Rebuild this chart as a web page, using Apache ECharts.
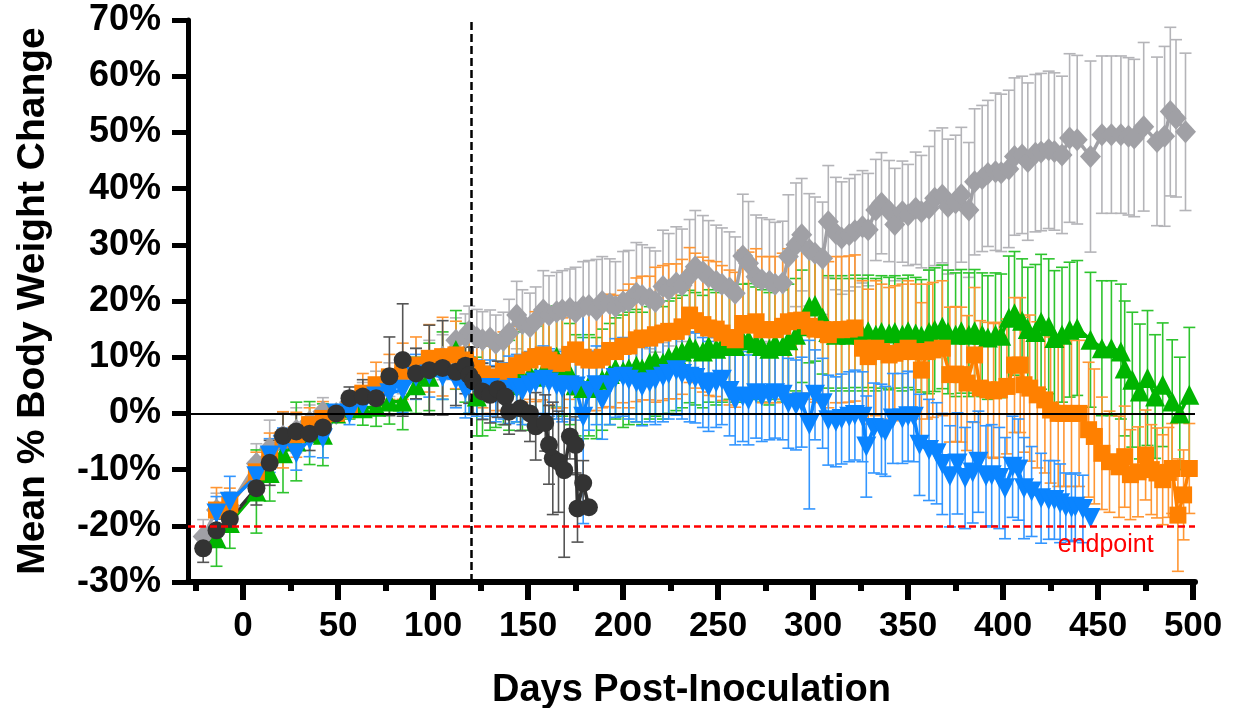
<!DOCTYPE html>
<html>
<head>
<meta charset="utf-8">
<script src="https://cdn.jsdelivr.net/npm/echarts@6.0.0/dist/echarts.min.js"></script>
<style>
html,body{margin:0;padding:0;background:#fff;}
#chart{width:1248px;height:708px;}
</style>
</head>
<body>
<div id="chart"></div>
<script>
// ---------------- DATA ----------------
const xMajorTicks = [0, 50, 100, 150, 200, 250, 300, 350, 400, 450, 500];
const xMinorTicks = [-25, 25, 75, 125, 175, 225, 275, 325, 375, 425, 475];
const earlyDays = [-14, -7, 7, 14, 21, 28, 35, 42, 49, 56, 63, 70, 77, 84, 91, 98, 105, 112, 117, 119];

// Gray diamonds
const grayEarlyDays = [-21, -14, -7, 7, 14, 21, 28, 35, 42, 49, 56, 63, 70, 77, 84, 91, 98, 105, 112, 117, 119];
const grayEarlyMean = [-21.9, -17.2, -16.5, -8.9, -6.2, -4.0, -3.0, -1.5, 0.3, 0, 2.0, 3.0, 4.5, 6.0, 7.0, 8.0, 9.0, 10.0, 13.0, 13.7, 14.6];
const grayEarlySD = [3, 3, 2.5, 3.5, 5, 4, 4, 3, 2.5, 0, 2, 2.5, 3, 3, 3.5, 3.5, 4, 4, 4, 4, 4.5];
const grayLateDays = [123,126,130,133,137,140,144,147,151,154,158,161,165,168,172,175,179,182,186,189,193,196,200,203,207,210,214,217,221,224,228,231,235,238,242,245,249,252,256,259,263,266,270,273,277,280,284,287,291,294,298,301,305,308,312,315,319,322,326,329,333,336,340,343,347,350,354,357,361,364,368,371,375,378,382,385,389,392,396,399,403,406,410,413,417,420,424,427,431,435,439,446,452,457,462,466,469,474,481,485,488,491,496];
const grayLateMean = [13.5,13.1,13.4,12.5,13.0,14.3,17.5,16.0,15.4,16.5,
  18.4,17.5,18.1,18.4,18.7,18.0,19.0,19.2,18.4,19.9,
  19.5,19.0,19.8,20.0,21.4,21.0,20.5,19.9,22.6,22.0,
  23.2,22.8,24.5,26.1,25.2,24.3,23.5,23.0,22.3,21.4,
  28.0,26.7,24.3,23.8,23.5,23.0,23.2,27.9,30.0,31.8,
  29.1,28.5,27.6,34.1,32.0,31.2,31.8,32.5,33.2,32.7,
  36.2,37.4,36.0,33.6,35.9,35.3,36.5,35.9,36.5,38.3,
  38.8,36.8,37.5,38.9,36.2,41.2,41.8,42.7,43.0,42.8,
  43.5,45.7,46.0,44.8,46.3,46.5,46.9,46.6,46.0,49.0,
  48.7,45.7,49.6,49.6,49.6,49.3,49.0,51.0,48.4,49.3,53.7,52.5,50.1];
const grayLateSD = [5,5,5,5,5,6,6,6,6,6,
  7,7,7,7,7,8,8,8,9,8,
  8,8,9,9,9,9,9,9,10,10,
  10,10,10,10,10,10,10,10,10,10,
  11,11,11,11,11,11,11,11,11,10,
  10,10,10,10,10,10,10,10,10,10,
  9,9,9,10,9,9,10,10,11,12,
  12,12,12,12,12,13,13,13,14,14,
  14,14,14,14,14,14,14,14,14,15,
  15,17,14,14,14,14,14,15,15,16,15,14,14];

// Orange squares
const orangeEarlyMean = [-17.2, -16.3, -10.4, -7.5, -4.7, -3.8, -2.0, -0.9, 0, 1.2, 3.6, 5.1, 6.5, 7.5, 8.6, 9.8, 10.1, 10.4, 9.5, 8.5];
const orangeEarlySD = [4, 3, 3.5, 4, 5, 4, 3, 3, 0, 2, 3.5, 4, 4, 5, 5, 6, 7, 6, 5, 5];
const orangeLateDays = [123,126,130,133,137,140,144,147,151,154,158,161,165,168,172,175,179,182,186,189,193,196,200,203,207,210,214,217,221,224,228,231,235,238,242,245,249,252,256,259,263,266,270,273,277,280,284,287,291,294,298,301,305,308,312,315,319,322,326,329,333,336,340,343,347,350,354,357,360,363,368,372,375,378,381,385,388,392,395,398,402,406,409,411,414,418,422,425,429,432,436,440,445,448,452,456,461,464,467,471,475,478,481,484,487,489,492,495,498];
const orangeLateMean = [8.0,7.0,6.0,6.5,7.5,7.0,8.5,9.0,9.5,10.1,
  10.4,9.5,8.9,9.0,10.5,11.3,10.0,9.5,9.5,10.0,
  11.2,11.0,11.9,12.0,13.1,13.4,13.4,14.0,14.3,14.6,
  14.6,15.4,17.5,16.5,15.8,15.2,15.0,14.3,13.5,13.1,
  16.0,15.7,16.3,14.9,14.9,14.9,15.5,16.3,16.5,16.6,
  15.5,15.0,14.9,14.0,14.9,14.9,15.0,15.2,11.6,10.1,
  11.6,11.0,10.4,10.7,11.0,11.6,11.0,7.7,11.0,11.3,
  11.6,6.9,7.0,6.9,5.4,10.4,4.5,4.2,4.0,4.2,
  4.8,8.6,8.6,5.1,4.5,3.3,2.4,0.6,0.0,0.0,
  0.0,0.0,-2.9,-4.1,-7.1,-8.6,-9.5,-7.7,-10.9,-10.4,
  -7.4,-10.0,-10.6,-11.8,-10.5,-9.8,-18.1,-14.5,-9.8];
const orangeLateSD = [5,6,6,6,7,7,7,7,7,8,
  8,8,8,8,8,8,9,9,9,9,
  10,10,10,11,11,11,11,12,12,12,
  12,12,12,12,12,12,12,12,12,12,
  13,13,13,13,13,13,13,13,13,13,
  13,13,13,13,13,13,13,13,12,12,
  12,12,12,12,12,12,12,12,12,12,
  12,12,12,12,12,12,12,12,12,12,
  12,12,12,12,13,13,13,13,13,13,
  13,13,12,12,10,9,9,9,8,8,
  8,8,8,8,8,8,10,8,8];

// Green triangles
const greenEarlyMean = [-22.2, -19.5, -13.9, -10.6, -7.1, -5.0, -3.5, -3.8, 0, 1.0, 0.9, 1.2, 2.1, 2.1, 5.0, 6.5, 8.5, 11.3, 9.0, 7.0];
const greenEarlySD = [5, 4.5, 7.4, 5, 7, 7, 5.6, 5.5, 0, 2, 3, 3.5, 4, 5, 5, 6, 6, 7, 7, 7];
const greenLateDays = [123,126,130,133,137,140,144,147,151,154,158,161,165,168,172,175,179,182,186,189,193,196,200,203,207,210,214,217,221,224,228,231,235,238,242,245,249,252,256,259,263,266,270,273,277,280,284,287,291,294,298,301,305,308,312,315,319,322,326,329,333,336,340,343,347,350,354,357,361,364,368,371,375,378,382,385,389,392,396,399,403,406,410,413,417,420,424,427,431,435,439,446,452,457,462,464,468,472,476,480,484,489,493,498];
const greenLateMean = [3.0,4.0,5.0,5.5,6.0,5.0,6.5,6.0,7.0,6.5,
  7.5,8.0,10.1,8.5,7.0,5.0,4.5,5.0,4.5,6.0,
  7.0,8.0,7.5,8.0,8.5,8.0,9.0,9.5,9.0,10.0,
  10.5,11.0,11.9,11.5,11.0,12.0,11.5,12.0,12.5,12.0,
  13.0,13.1,12.5,12.0,11.5,12.5,12.0,13.0,14.0,15.5,
  19.0,19.3,17.0,14.5,14.0,14.5,14.0,14.6,14.0,14.6,
  14.0,14.5,14.2,14.5,14.0,14.6,14.2,13.8,14.5,14.9,
  15.4,14.5,14.0,14.6,14.0,14.6,14.0,13.5,14.0,13.8,
  17.0,17.8,16.5,15.0,14.5,16.3,15.5,13.4,14.0,14.9,
  15.2,13.1,11.6,11.6,11.0,8.0,6.0,3.9,6.3,3.0,5.1,2.1,0.0,3.3];
const greenLateSD = [7,8,8,8,8,8,8,9,9,9,
  9,9,9,9,9,9,9,9,9,9,
  9,9,10,10,10,10,10,10,10,10,
  10,10,10,10,10,10,10,10,10,10,
  10,10,10,10,10,10,10,10,10,10,
  10,10,10,10,10,10,10,10,10,10,
  10,10,10,10,10,10,10,10,11,11,
  11,11,11,11,11,11,11,11,11,11,
  11,11,11,11,12,12,12,12,12,12,
  12,12,12,12,12,12,12,12,12,11,11,11,10,12];

// Blue inverted triangles
const blueEarlyMean = [-17.8, -15.7, -11.2, -7.5, -5.6, -7.1, -4.7, -4.4, 0, 0, 1.5, 3.0, 3.6, 4.2, 6.5, 6.9, 6.5, 6.0, 4.2, 5.0];
const blueEarlySD = [3, 4.5, 3, 3, 3, 3, 3, 3.5, 0, 2, 2, 3, 3, 4, 4, 4, 4, 5, 5, 5];
const blueLateDays = [123,126,130,133,137,140,144,147,151,154,158,161,165,168,172,175,179,182,186,189,193,196,200,203,207,210,214,217,221,224,228,231,235,238,242,245,249,252,256,259,263,266,270,273,277,280,284,287,291,294,298,301,305,308,312,315,319,322,326,328,332,336,338,342,347,350,353,356,361,365,368,372,376,380,384,387,391,394,398,401,405,408,411,415,420,424,427,430,433,436,438,442,446];
const blueLateMean = [4.5,4.0,4.5,3.5,4.0,4.2,4.5,4.0,5.0,5.5,
  6.0,5.5,5.0,4.5,5.0,4.8,-0.6,4.0,5.0,2.4,
  5.0,6.3,6.5,6.0,5.5,4.8,5.5,6.0,6.5,7.0,
  7.7,7.0,6.5,6.3,5.5,4.8,5.5,6.0,4.0,2.4,
  3.0,2.4,3.6,3.0,3.3,3.6,3.3,1.8,1.5,2.0,
  -2.0,3.3,1.8,-1.2,-1.5,-1.0,-0.6,-0.3,-0.6,-5.9,
  -2.6,-2.8,-3.2,-0.9,-0.9,-0.5,-0.6,-5.6,-6.5,-7.1,
  -9.0,-11.2,-8.9,-11.5,-10.5,-8.6,-11.2,-11.0,-11.5,-13.3,
  -9.5,-10.0,-13.3,-13.9,-15.1,-15.4,-15.4,-16.0,-16.6,-16.8,
  -16.6,-17.0,-18.6];
const blueLateSD = [5,5,5,5,5,6,6,6,6,6,
  6,6,6,6,6,6,19,7,7,7,
  7,7,7,7,7,7,7,8,8,8,
  8,8,8,8,8,8,8,8,8,8,
  8,8,8,8,8,8,8,8,8,8,
  15,8,8,8,8,8,8,8,8,9,
  8,8,8,8,8,8,8,9,9,9,
  9,9,9,9,9,9,9,9,9,9,
  9,9,9,8,8,7,7,7,6,6,
  6,6,0];

// Black circles
const blackDays = [-21,-14,-7,7,14,21,28,35,42,49,56,63,70,77,84,91,98,105,112,117,119,121,126,130,134,138,140,146,151,154,159,161,163,166,169,172,175,176,179,182];
const blackMean = [-24.0,-20.8,-18.8,-13.3,-8.8,-4.0,-3.2,-3.6,-2.5,0,2.7,3.0,2.7,6.6,9.5,7.1,7.7,8.1,7.4,8.5,6.8,5.8,3.9,3.3,4.3,3.0,0.3,0.9,0.0,-2.3,-1.7,-5.6,-8.0,-8.6,-10.1,-4.1,-5.6,-16.9,-12.4,-16.7];
const blackSD = [2.5,2,2,3,4,4,3,3,2.5,0,2,3,3,7,10,4.5,8,8.4,6,5,5,6,5,5,5,5,4,4,5,6,5,7,10,9,15.5,4,5,6,4,0];

// Annotation
const endpointLabel = 'endpoint';
const endpointAt = [454, -23.4];

// ---------------- BUILD ----------------
function build(days, mean, sd) {
  const pts = [], err = [];
  for (let i = 0; i < days.length; i++) {
    pts.push([days[i], mean[i]]);
    err.push([days[i], mean[i], sd[i]]);
  }
  return { pts, err };
}
const gray = build(grayEarlyDays.concat(grayLateDays), grayEarlyMean.concat(grayLateMean), grayEarlySD.concat(grayLateSD));
const orange = build(earlyDays.concat(orangeLateDays), orangeEarlyMean.concat(orangeLateMean), orangeEarlySD.concat(orangeLateSD));
const green = build(earlyDays.concat(greenLateDays), greenEarlyMean.concat(greenLateMean), greenEarlySD.concat(greenLateSD));
const blue = build(earlyDays.concat(blueLateDays), blueEarlyMean.concat(blueLateMean), blueEarlySD.concat(blueLateSD));
const black = build(blackDays, blackMean, blackSD);

function errRender(color) {
  return function (params, api) {
    const x = api.value(0), m = api.value(1), s = api.value(2);
    if (!s) return { type: 'group', children: [] };
    const t = api.coord([x, m + s]), b = api.coord([x, m - s]);
    const w = 6;
    const st = { stroke: color, lineWidth: 1.6 };
    return {
      type: 'group', children: [
        { type: 'line', shape: { x1: t[0], y1: t[1], x2: b[0], y2: b[1] }, style: st },
        { type: 'line', shape: { x1: t[0] - w, y1: t[1], x2: t[0] + w, y2: t[1] }, style: st },
        { type: 'line', shape: { x1: b[0] - w, y1: b[1], x2: b[0] + w, y2: b[1] }, style: st }
      ]
    };
  };
}
function errSeries(d, color) {
  return { type: 'custom', data: d.err, renderItem: errRender(color), encode: { x: 0, y: 1 }, silent: true, animation: false };
}
function lineSeries(d, color, symbol, size, extra) {
  return Object.assign({
    type: 'line', data: d.pts, symbol: symbol, symbolSize: size, showSymbol: true,
    itemStyle: { color: color, opacity: 1 }, lineStyle: { color: color, width: 3.5 },
    silent: true, animation: false
  }, extra || {});
}

const FONT = 'Liberation Sans, Arial, sans-serif';
const chart = echarts.init(document.getElementById('chart'), null, { renderer: 'canvas' });
chart.setOption({
  animation: false,
  backgroundColor: '#ffffff',
  grid: { left: 188, right: 53, top: 20, bottom: 126, containLabel: false, outerBoundsMode: 'none' },
  xAxis: [{
    type: 'value', min: -29, max: 501, position: 'bottom',
    name: 'Days Post-Inoculation', nameLocation: 'middle', nameGap: 90,
    nameTextStyle: { fontSize: 38, fontWeight: 'bold', color: '#000', fontFamily: FONT },
    axisLine: { show: true, onZero: false, lineStyle: { color: '#000', width: 6 } },
    axisTick: { show: true, customValues: xMajorTicks, length: 18, lineStyle: { color: '#000', width: 6 } },
    axisLabel: { show: true, customValues: xMajorTicks, margin: 27, fontSize: 35, fontWeight: 'bold', color: '#000', fontFamily: FONT },
    splitLine: { show: false }
  }, {
    type: 'value', min: -29, max: 501, position: 'bottom', offset: 0,
    axisLine: { show: false, onZero: false },
    axisTick: { show: true, customValues: xMinorTicks, length: 9, lineStyle: { color: '#000', width: 6 } },
    axisLabel: { show: false },
    splitLine: { show: false }
  }],
  yAxis: {
    type: 'value', min: -30, max: 70, interval: 10,
    name: 'Mean % Body Weight Change', nameLocation: 'middle', nameGap: 135,
    nameTextStyle: { fontSize: 39, fontWeight: 'bold', color: '#000', fontFamily: FONT },
    axisLine: { show: true, onZero: false, lineStyle: { color: '#000', width: 5 } },
    axisTick: { show: true, length: 16, lineStyle: { color: '#000', width: 5 } },
    axisLabel: { margin: 27, fontSize: 36, fontWeight: 'bold', color: '#000', fontFamily: FONT, formatter: '{value}%' },
    splitLine: { show: false }
  },
  series: [
    {
      type: 'line', data: [], silent: true, animation: false,
      markLine: {
        silent: true, symbol: 'none', label: { show: false }, animation: false,
        data: [
          { yAxis: 0, lineStyle: { color: '#000', width: 2, type: 'solid' } },
          { yAxis: -20, lineStyle: { color: '#ff0000', width: 2.5, type: [7, 4] } },
          { xAxis: 120, lineStyle: { color: '#000', width: 2.5, type: [8, 4] } }
        ]
      }
    },
    errSeries(gray, '#b4b4b8'),
    lineSeries(gray, '#a0a0a5', 'diamond', [21, 23]),
    errSeries(green, '#2ec42e'),
    lineSeries(green, '#00b400', 'triangle', 20),
    errSeries(orange, '#ff9633'),
    lineSeries(orange, '#ff8000', 'rect', 17),
    errSeries(blue, '#3396ff'),
    lineSeries(blue, '#0a84ff', 'triangle', 20, { symbolRotate: 180 }),
    errSeries(black, '#555555'),
    lineSeries(black, '#333333', 'circle', 18),
    {
      type: 'scatter', data: [endpointAt], symbol: 'circle', symbolSize: 2,
      itemStyle: { color: 'rgba(255,255,255,0)' }, silent: true, animation: false, z: 20, zlevel: 1,
      label: {
        show: true, position: 'inside', formatter: endpointLabel, color: '#ff0000', opacity: 1,
        textBorderWidth: 0, fontSize: 25, fontFamily: FONT
      }
    }
  ]
});
</script>
</body>
</html>
